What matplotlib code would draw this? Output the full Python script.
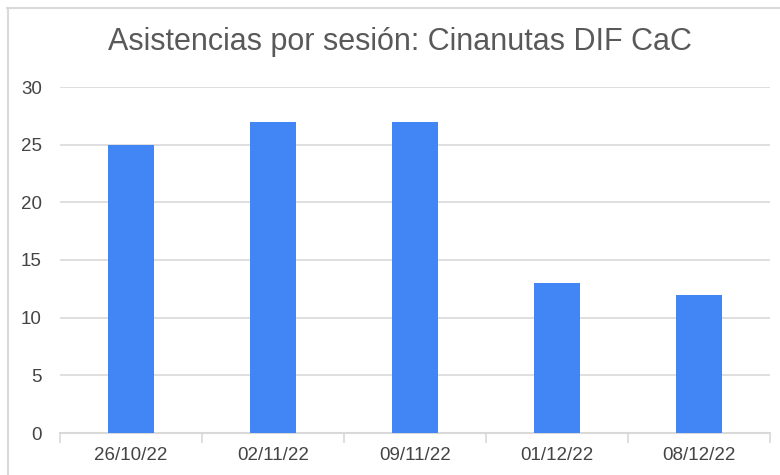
import matplotlib
matplotlib.use("Agg")
import matplotlib.pyplot as plt
from matplotlib.lines import Line2D

categories = ["26/10/22", "02/11/22", "09/11/22", "01/12/22", "08/12/22"]
values = [25, 27, 27, 13, 12]
yticks = [0, 5, 10, 15, 20, 25, 30]

plt.rcParams['font.family'] = ['Liberation Sans', 'DejaVu Sans']

W, H = 780, 475
fig = plt.figure(figsize=(W / 100, H / 100), dpi=100)
ax = fig.add_axes([60 / W, (H - 433) / H, (770 - 60) / W, (433 - 87) / H])

x = list(range(len(categories)))
ax.bar(x, values, width=0.32, color="#4285F4", zorder=3)
ax.set_xlim(-0.5, len(categories) - 0.5)
ax.set_ylim(0, 30)
ax.set_yticks(yticks)
ax.set_yticklabels([str(v) for v in yticks])
ax.grid(axis="y", color="#d9d9d9", linewidth=1.2, zorder=0)
ax.tick_params(axis="y", length=0, pad=13, labelsize=13.5, labelcolor="#444444")

ax.set_xticks(x)
ax.set_xticklabels(categories)
ax.tick_params(axis="x", length=0, pad=10, labelsize=13.5, labelcolor="#444444")
# boundary ticks
ax.set_xticks([i - 0.5 for i in range(len(categories) + 1)], minor=True)
ax.tick_params(axis="x", which="minor", length=7, width=1.2, color="#d9d9d9")

for s in ["top", "right", "left"]:
    ax.spines[s].set_visible(False)
ax.spines["bottom"].set_color("#d9d9d9")
ax.spines["bottom"].set_linewidth(1.5)

fig.text(400 / W, 1 - 42 / H, "Asistencias por sesión: Cinanutas DIF CaC",
         ha="center", va="center", fontsize=22, color="#595959")

# outer border (top and left visible)
fig.add_artist(Line2D([7 / W, 1.0], [1 - 7.5 / H, 1 - 7.5 / H], transform=fig.transFigure,
                      color="#d9d9d9", linewidth=1.5))
fig.add_artist(Line2D([7.5 / W, 7.5 / W], [0, 1 - 7.5 / H], transform=fig.transFigure,
                      color="#d9d9d9", linewidth=1.5))

fig.savefig("out.png", dpi=100)
